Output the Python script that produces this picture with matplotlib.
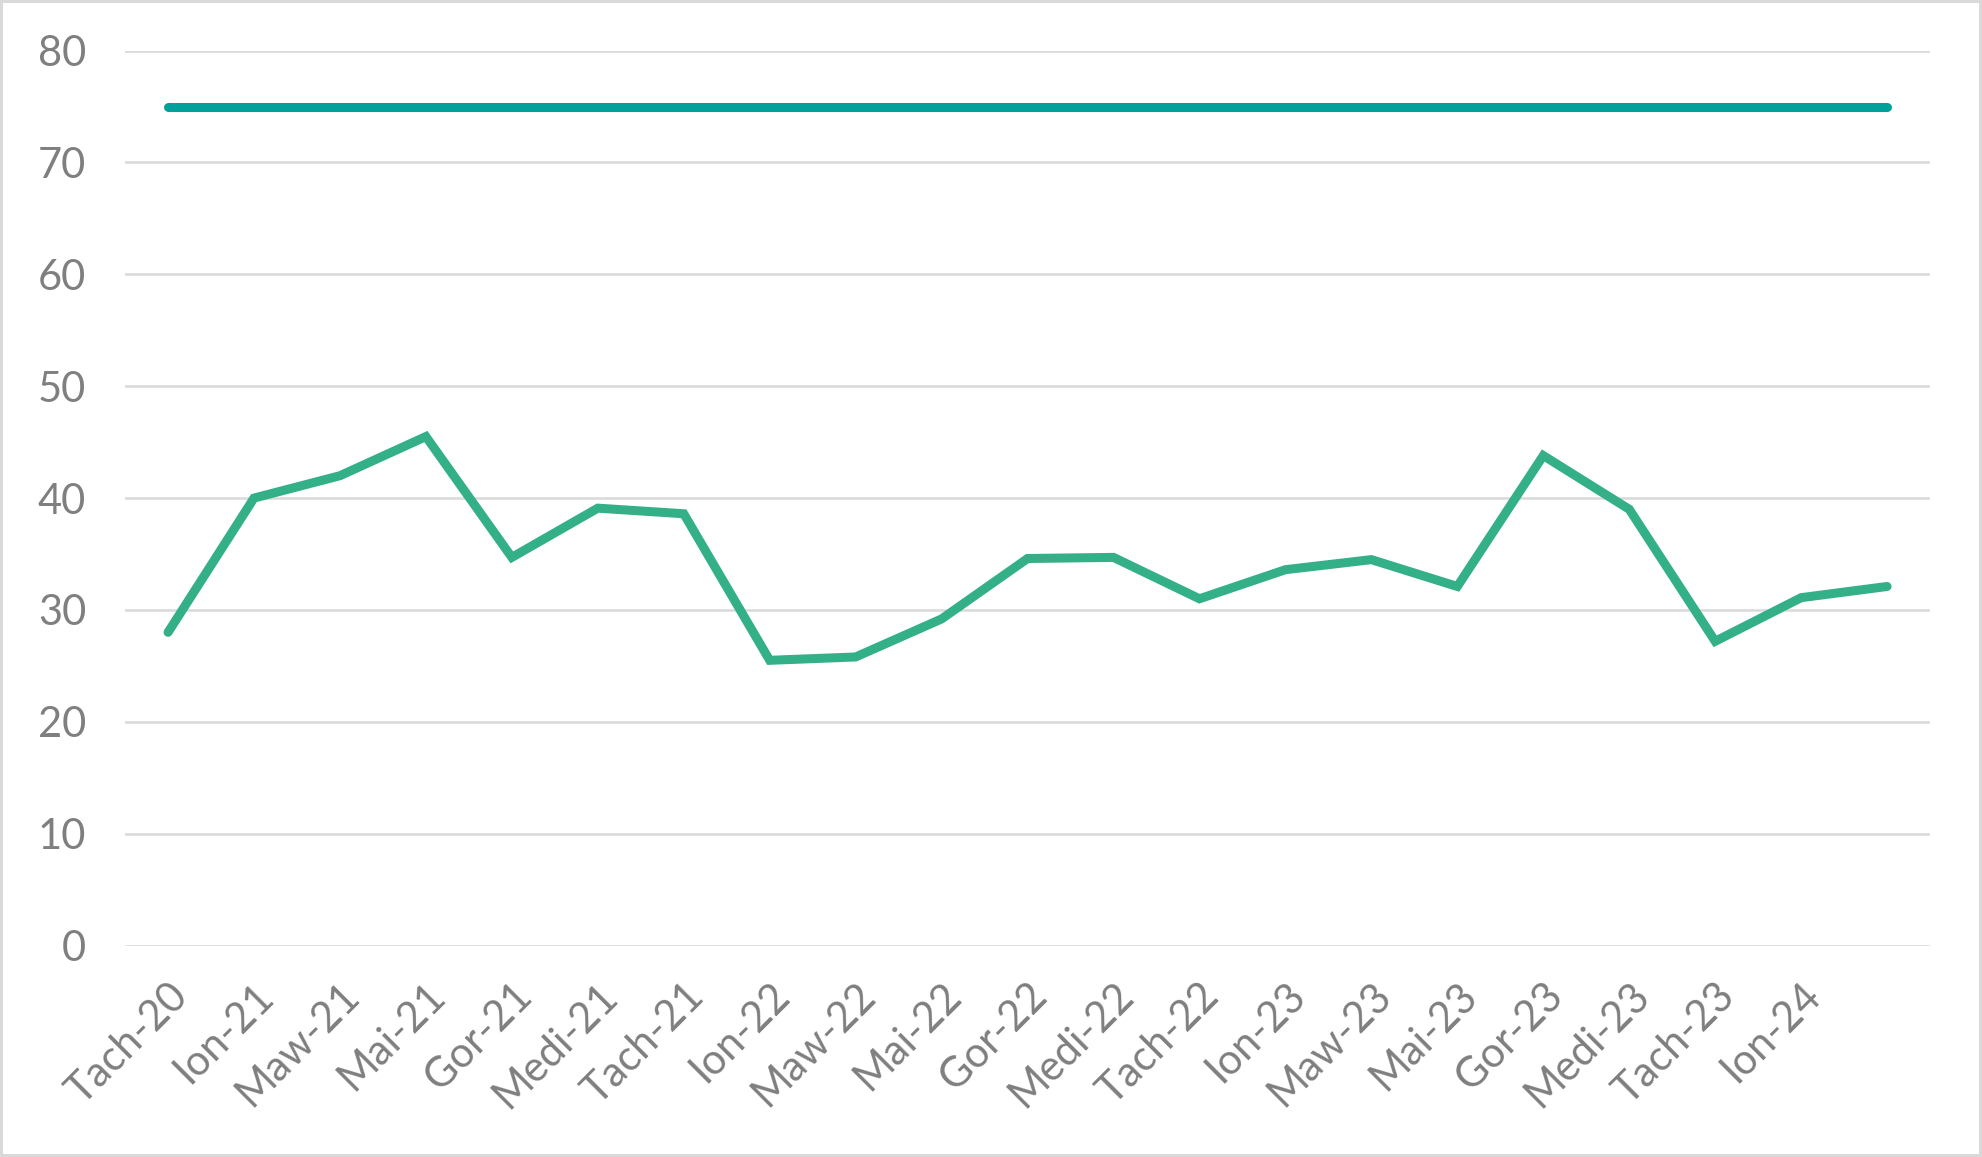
import numpy as np
import matplotlib
matplotlib.use("Agg")
import matplotlib.pyplot as plt

months = ["Tach-20", "Ion-21", "Maw-21", "Mai-21", "Gor-21", "Medi-21", "Tach-21",
          "Ion-22", "Maw-22", "Mai-22", "Gor-22", "Medi-22", "Tach-22",
          "Ion-23", "Maw-23", "Mai-23", "Gor-23", "Medi-23", "Tach-23", "Ion-24", ""]
values = [28.0, 40.0, 42.0, 45.5, 34.7, 39.1, 38.6,
          25.5, 25.8, 29.2, 34.6, 34.7, 31.0,
          33.6, 34.5, 32.1, 43.8, 39.0, 27.2, 31.1, 32.1]
target = [75] * len(months)

plt.rcParams['font.family'] = ['Lato', 'DejaVu Sans']

fig = plt.figure(figsize=(19.82, 11.57), dpi=100)
fig.patch.set_edgecolor('#D9D9D9')
fig.patch.set_linewidth(3)
ax = fig.add_axes([0.0631, 0.1827, 0.9107, 0.7736])

x = np.arange(len(months))
ax.plot(x, target, color='#00A19A', lw=6.5, solid_capstyle='round', zorder=3)
ax.plot(x, values, color='#33B087', lw=6.5, solid_capstyle='round',
        solid_joinstyle='miter', zorder=3)

ax.set_xlim(-0.5, len(months) - 0.5)
ax.set_ylim(0, 80)
ax.set_yticks(np.arange(0, 81, 10))
ax.set_xticks(x)
ax.set_xticklabels(months, rotation=45, ha='right', rotation_mode='anchor')
ax.grid(axis='y', color='#D9D9D9', lw=1.8)
ax.set_axisbelow(True)
for s in ax.spines.values():
    s.set_visible(False)
ax.tick_params(axis='both', length=0, colors='#7F7F7F', labelsize=30)
ax.tick_params(axis='y', pad=28)
ax.tick_params(axis='x', pad=22)

fig.savefig('out.png', dpi=100, edgecolor=fig.get_edgecolor())
